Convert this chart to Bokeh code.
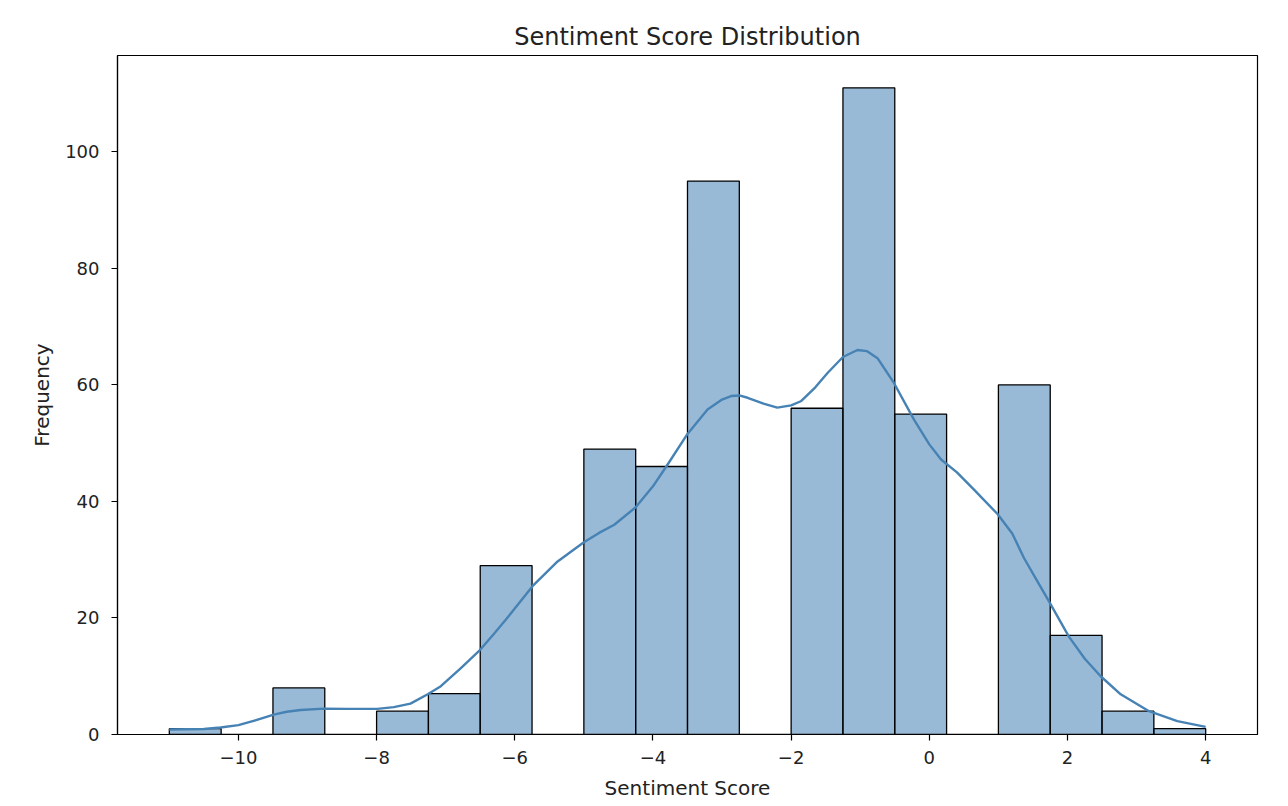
from bokeh.plotting import figure
from bokeh.models import ColumnDataSource, FixedTicker, Range1d
from bokeh.embed import file_html
from bokeh.resources import INLINE

# Histogram bins (edges) and counts
bin_left = [-11.0, -10.25, -9.5, -8.75, -8.0, -7.25, -6.5, -5.75, -5.0, -4.25,
            -3.5, -2.75, -2.0, -1.25, -0.5, 0.25, 1.0, 1.75, 2.5, 3.25]
bin_right = [-10.25, -9.5, -8.75, -8.0, -7.25, -6.5, -5.75, -5.0, -4.25, -3.5,
             -2.75, -2.0, -1.25, -0.5, 0.25, 1.0, 1.75, 2.5, 3.25, 4.0]
counts = [1, 0, 8, 0, 4, 7, 29, 0, 49, 46, 95, 0, 56, 111, 55, 0, 60, 17, 4, 1]

# KDE curve
kde_x = [-11.0, -10.5, -10.26, -10.0, -9.82, -9.65, -9.49, -9.3, -9.1, -8.76,
         -8.4, -7.99, -7.75, -7.51, -7.26, -7.07, -6.78, -6.52, -6.3, -6.11,
         -5.74, -5.38, -5.0, -4.78, -4.56, -4.25, -4.0, -3.79, -3.5, -3.21,
         -3.0, -2.87, -2.75, -2.63, -2.4, -2.2, -2.0, -1.86, -1.65, -1.47,
         -1.25, -1.04, -0.9, -0.75, -0.51, -0.22, 0.0, 0.17, 0.4, 0.65,
         0.99, 1.2, 1.37, 1.55, 1.73, 2.02, 2.25, 2.48, 2.77, 3.18,
         3.59, 4.0]
kde_y = [0.85, 0.95, 1.2, 1.6, 2.2, 2.8, 3.4, 3.9, 4.2, 4.45,
         4.4, 4.4, 4.7, 5.3, 6.9, 8.3, 11.4, 14.3, 17.3, 20.0,
         25.5, 29.7, 33.0, 34.6, 36.0, 39.0, 42.6, 46.3, 51.6, 55.8,
         57.5, 58.1, 58.2, 57.8, 56.8, 56.1, 56.5, 57.2, 59.6, 62.1,
         64.8, 66.0, 65.8, 64.6, 60.3, 54.0, 49.8, 47.2, 45.0, 42.0,
         37.8, 34.5, 30.3, 26.6, 22.9, 16.8, 13.0, 10.0, 6.9, 4.0,
         2.3, 1.3]

x_ticks = [-10, -8, -6, -4, -2, 0, 2, 4]
y_ticks = [0, 20, 40, 60, 80, 100]

FONT = "DejaVu Sans"

p = figure(
    frame_width=1140, frame_height=679,
    min_border_left=117, min_border_right=15,
    min_border_top=55, min_border_bottom=68,
    output_backend="svg", toolbar_location=None,
    title="Sentiment Score Distribution",
    x_range=Range1d(-11.75, 4.75), y_range=Range1d(0, 116.55),
)

src = ColumnDataSource(dict(left=bin_left, right=bin_right, top=counts))
p.quad(left="left", right="right", bottom=0, top="top", source=src,
       fill_color="#4682B4", fill_alpha=0.55,
       line_color="black", line_width=1.3)

p.line(kde_x, kde_y, line_color="#4682B4", line_width=2.4, line_join="round")

p.title.align = "center"
p.title.text_font = FONT
p.title.text_font_size = "24px"
p.title.text_font_style = "normal"
p.title.text_color = "#222222"
p.title.standoff = 10

p.grid.visible = False
p.outline_line_color = "black"
p.outline_line_width = 1.2
p.outline_line_alpha = 1.0

for ax in (p.xaxis[0], p.yaxis[0]):
    ax.axis_line_color = "black"
    ax.axis_line_width = 1.2
    ax.major_tick_line_color = "black"
    ax.major_tick_line_width = 1.2
    ax.major_tick_out = 6
    ax.major_tick_in = 0
    ax.minor_tick_line_color = None
    ax.major_label_text_font = FONT
    ax.major_label_text_font_size = "18px"
    ax.major_label_text_color = "#222222"
    ax.axis_label_text_font = FONT
    ax.axis_label_text_font_size = "20px"
    ax.axis_label_text_font_style = "normal"
    ax.axis_label_text_color = "#222222"

p.xaxis.ticker = FixedTicker(ticks=x_ticks)
p.yaxis.ticker = FixedTicker(ticks=y_ticks)
p.xaxis.major_label_overrides = {t: ("\u2212" + str(-t) if t < 0 else str(t)) for t in x_ticks}
p.xaxis.axis_label = "Sentiment Score"
p.yaxis.axis_label = "Frequency"
p.xaxis.major_label_standoff = 10
p.yaxis.major_label_standoff = 12
p.xaxis.axis_label_standoff = 9
p.yaxis.axis_label_standoff = 8

open("out.html", "w").write(file_html(p, INLINE))
